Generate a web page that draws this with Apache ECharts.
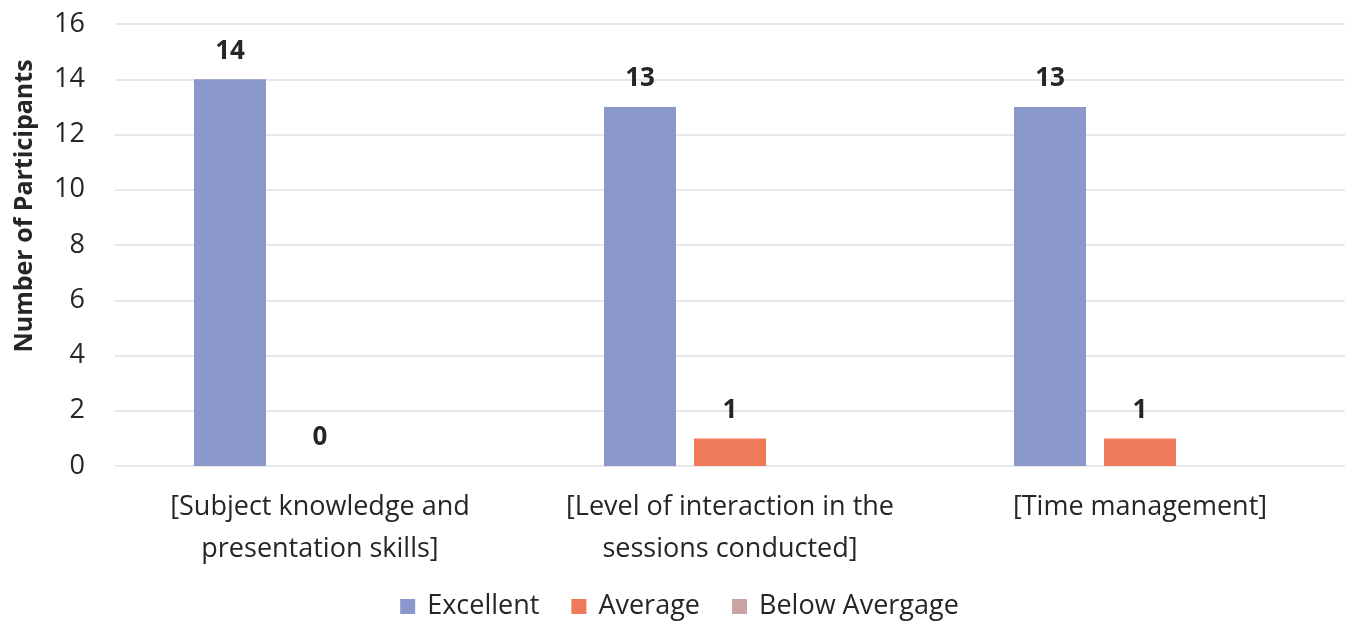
<!DOCTYPE html>
<html>
<head>
<meta charset="utf-8">
<script src="https://cdn.jsdelivr.net/npm/echarts@6/dist/echarts.min.js"></script>
<style>
  html, body { margin: 0; padding: 0; background: #fff; }
  #chart { width: 1359px; height: 625px; }
</style>
</head>
<body>
<div id="chart"></div>
<script>
const categories = [
  "[Subject knowledge and\npresentation skills]",
  "[Level of interaction in the\nsessions conducted]",
  "[Time management]"
];
const excellent = [14, 13, 13];
const average = [0, 1, 1];
const belowAverage = [null, null, null];

const font = "'Open Sans', sans-serif";
const textColor = "#262626";
const labelStyle = {
  show: true,
  position: "top",
  distance: 15,
  color: textColor,
  fontSize: 26,
  fontWeight: "bold",
  fontFamily: font
};

const chart = echarts.init(document.getElementById("chart"));
chart.setOption({
  animation: false,
  textStyle: { fontFamily: font },
  grid: { left: 115, right: 14, top: 24, bottom: 159 },
  legend: {
    bottom: 0,
    left: "center",
    itemWidth: 15,
    itemHeight: 15,
    itemGap: 32,
    icon: "rect",
    textStyle: { fontSize: 27, color: textColor, fontFamily: font, padding: [0, 0, 0, 7] }
  },
  graphic: [{
    type: "text",
    x: 25,
    y: 206,
    rotation: Math.PI / 2,
    style: {
      text: "Number of Participants",
      fontSize: 25,
      fontWeight: "bold",
      fill: textColor,
      fontFamily: font,
      align: "center",
      verticalAlign: "middle"
    }
  }],
  xAxis: {
    type: "category",
    data: categories,
    axisLine: { show: false },
    axisTick: { show: false },
    axisLabel: { interval: 0, hideOverlap: false, fontSize: 27, color: textColor, lineHeight: 42, margin: 20 }
  },
  yAxis: {
    type: "value",
    min: 0,
    max: 16,
    interval: 2,
    axisLabel: { fontSize: 27, color: textColor, margin: 30 },
    splitLine: { lineStyle: { color: "#e8e8e8", width: 2 } }
  },
  series: [
    { name: "Excellent", type: "bar", data: excellent, barWidth: 72, barGap: "25%",
      itemStyle: { color: "#8c98cc" }, label: labelStyle },
    { name: "Average", type: "bar", data: average, barWidth: 72,
      itemStyle: { color: "#ef7a5a" }, label: labelStyle },
    { name: "Below Avergage", type: "bar", data: belowAverage, barWidth: 72,
      itemStyle: { color: "#c9a4a4" }, label: labelStyle }
  ]
});
</script>
</body>
</html>
